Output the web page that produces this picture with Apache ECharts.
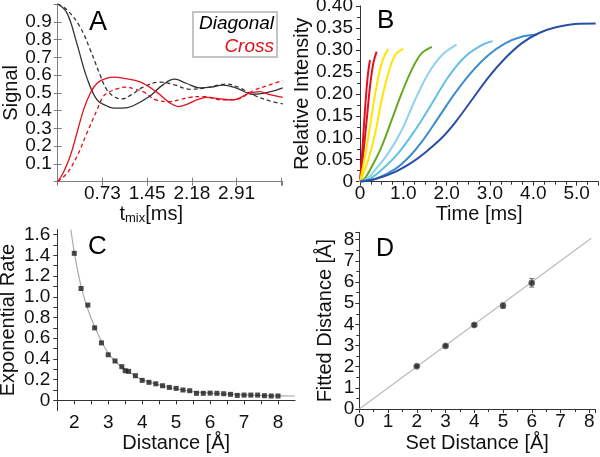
<!DOCTYPE html>
<html><head><meta charset="utf-8">
<script src="https://cdn.jsdelivr.net/npm/echarts@6/dist/echarts.min.js"></script>
<style>html,body{margin:0;padding:0;background:#fff}#c{width:600px;height:457px}</style>
</head><body><div id="c"></div>
<script>
// ---------- Panel A : Signal vs t_mix ----------
const aTickLabels = ['0.73', '1.45', '2.18', '2.91'];
const aDiagSolid = [[0,1.0],[0.15,0.95],[0.31,0.78],[0.47,0.59],[0.64,0.46],[0.80,0.426],[0.91,0.414],[1.05,0.414],[1.22,0.426],[1.49,0.479],[1.71,0.545],[1.90,0.577],[2.09,0.554],[2.31,0.528],[2.50,0.532],[2.69,0.543],[2.91,0.526],[3.18,0.492],[3.40,0.501],[3.66,0.528]];
const aDiagDashed = [[0,1.0],[0.15,0.967],[0.36,0.873],[0.53,0.742],[0.69,0.60],[0.80,0.517],[0.935,0.475],[1.04,0.466],[1.2,0.49],[1.39,0.532],[1.66,0.56],[1.9,0.545],[2.15,0.52],[2.4,0.528],[2.75,0.549],[2.95,0.53],[3.18,0.488],[3.45,0.455],[3.66,0.438]];
const aCrossSolid = [[0,0],[0.09,0.05],[0.2,0.14],[0.31,0.27],[0.42,0.404],[0.53,0.498],[0.64,0.554],[0.80,0.583],[0.93,0.588],[1.1,0.58],[1.33,0.563],[1.6,0.507],[1.82,0.445],[1.96,0.423],[2.1,0.435],[2.26,0.46],[2.42,0.475],[2.69,0.464],[2.84,0.46],[3.12,0.498],[3.28,0.507],[3.45,0.49],[3.66,0.475]];
const aCrossDashed = [[0,0],[0.15,0.047],[0.31,0.14],[0.47,0.27],[0.64,0.404],[0.74,0.479],[0.85,0.507],[1.0,0.527],[1.11,0.532],[1.25,0.522],[1.39,0.507],[1.6,0.46],[1.82,0.451],[2.0,0.463],[2.15,0.475],[2.37,0.479],[2.69,0.46],[2.91,0.464],[3.18,0.513],[3.45,0.545],[3.66,0.569]];

// ---------- Panel B : Relative intensity vs time ----------
const bRed1 = [[0,0],[0.054,0.072],[0.115,0.163],[0.177,0.239],[0.23,0.277]];
const bRed2 = [[0,0],[0.077,0.065],[0.154,0.14],[0.23,0.216],[0.308,0.27],[0.385,0.296]];
const bYellow1 = [[0,0],[0.115,0.057],[0.23,0.125],[0.35,0.2],[0.5,0.27],[0.65,0.302]];
const bYellow2 = [[0,0],[0.19,0.05],[0.35,0.11],[0.5,0.186],[0.654,0.247],[0.81,0.288],[1.0,0.303]];
const bGreen = [[0,0],[0.13,0.01],[0.27,0.034],[0.5,0.08],[0.73,0.14],[0.96,0.201],[1.19,0.254],[1.42,0.292],[1.66,0.307]];
const bCyan1 = [[0,0],[0.18,0.008],[0.35,0.027],[0.654,0.065],[0.962,0.117],[1.27,0.186],[1.58,0.247],[1.89,0.288],[2.23,0.312]];
const bCyan2 = [[0,0],[0.25,0.008],[0.5,0.027],[0.885,0.065],[1.27,0.117],[1.66,0.178],[2.04,0.239],[2.43,0.285],[2.81,0.311],[3.06,0.32]];
const bBlue = [[0,0],[0.4,0.008],[0.8,0.028],[1.12,0.055],[1.42,0.09],[1.81,0.146],[2.19,0.201],[2.58,0.25],[2.96,0.288],[3.35,0.315],[3.73,0.33],[4.08,0.335]];
const bNavy = [[0,0],[0.35,0.006],[0.8,0.022],[1.2,0.044],[1.5,0.066],[1.89,0.1],[2.19,0.134],[2.58,0.186],[2.96,0.237],[3.35,0.281],[3.73,0.315],[4.12,0.338],[4.5,0.351],[4.97,0.359],[5.44,0.36]];
const bColors = ['#e3101e','#e3101e','#ffe500','#ffe500','#66a81e','#8ed3ec','#62c0e3','#3d8cd0','#2b4ea6'];

// ---------- Panel C : Exponential rate vs distance ----------
const cPoints = [[2.0,1.42],[2.2,1.08],[2.4,0.92],[2.6,0.70],[2.8,0.555],[3.0,0.44],[3.2,0.38],[3.4,0.325],[3.5,0.286],[3.6,0.28],[3.8,0.238],[4.0,0.193],[4.2,0.174],[4.4,0.16],[4.6,0.141],[4.8,0.125],[5.0,0.116],[5.2,0.10],[5.4,0.093],[5.6,0.068],[5.8,0.068],[6.0,0.07],[6.2,0.068],[6.4,0.064],[6.6,0.058],[6.8,0.048],[7.0,0.051],[7.2,0.051],[7.4,0.051],[7.6,0.045],[7.8,0.042],[8.0,0.042]];
const cFit = [[1.9,1.65],[2.0,1.43],[2.2,1.1],[2.4,0.88],[2.6,0.71],[2.8,0.57],[3.0,0.455],[3.2,0.38],[3.4,0.32],[3.6,0.275],[3.8,0.235],[4.0,0.2],[4.5,0.15],[5.0,0.11],[5.5,0.085],[6.0,0.07],[6.5,0.06],[7.0,0.052],[7.5,0.047],[8.0,0.044],[8.5,0.042]];

// ---------- Panel D : Fitted vs set distance ----------
const dSet = [2, 3, 4, 5, 6];
const dFitted = [2.02, 2.98, 3.97, 4.88, 5.96];
const dErr = [0.05, 0.05, 0.06, 0.12, 0.2];
const dIdentity = [[0,0],[8.07,8.07]];

const FONT = 'Liberation Sans, Arial, Helvetica, sans-serif';
const TXT = '#111';
const LBL = {fontSize: 19, color: TXT, fontFamily: FONT};
const TITLE = {fontSize: 20, color: TXT, fontFamily: FONT};

function isMult(v, step) { const r = v / step; return Math.abs(r - Math.round(r)) < 1e-6; }

const chart = echarts.init(document.getElementById('c'), null, {renderer: 'canvas'});

const grayBox = '#7f7f7f';
const axisDark = {lineStyle: {color: '#333', width: 1}};

const option = {
  animation: false,
  backgroundColor: '#fff',
  textStyle: {fontFamily: FONT},
  grid: [
    {left: 57.7, top: 4, right: 317.3, bottom: 275.3, outerBoundsMode: 'none'},
    {left: 360, top: 6, right: 1.7, bottom: 275.3, outerBoundsMode: 'none'},
    {left: 57.3, top: 229.5, right: 305, bottom: 46.3, outerBoundsMode: 'none'},
    {left: 359.3, top: 232.3, right: 5, bottom: 48, outerBoundsMode: 'none'}
  ],
  legend: {
    left: 193, top: 12,
    orient: 'vertical',
    icon: 'none', itemWidth: 0, itemHeight: 0, itemGap: 4,
    backgroundColor: '#fff',
    borderColor: '#c4c4c4', borderWidth: 2,
    padding: [2, 3, 1, 0],
    selectedMode: false,
    formatter: n => '{r|' + n + '}',
    textStyle: {fontSize: 19, fontStyle: 'italic', fontFamily: FONT,
      rich: {r: {width: 76, align: 'right', fontSize: 19, fontStyle: 'italic', fontFamily: FONT}}},
    data: [
      {name: 'Diagonal', textStyle: {color: '#000'}},
      {name: 'Cross', textStyle: {color: '#e3101e'}}
    ]
  },
  xAxis: [
    { // A bottom
      gridIndex: 0, type: 'value', min: 0, max: 3.66, interval: 0.7275,
      name: '{t|t}{s|mix}{t|[ms]}', nameLocation: 'middle', nameGap: 20,
      nameTextStyle: {padding: [0, 38, 0, 0], rich: {
        t: {fontSize: 20, color: TXT, fontFamily: FONT},
        s: {fontSize: 13, color: TXT, fontFamily: FONT, verticalAlign: 'bottom', padding: [2, 0, 0, 0]}}},
      axisLine: {lineStyle: {color: grayBox}},
      axisTick: {inside: true, length: 4, lineStyle: {color: grayBox}},
      splitLine: {show: false},
      axisLabel: Object.assign({}, LBL, {margin: 3, showMinLabel: false, showMaxLabel: false,
        formatter: v => { const i = Math.round(v / 0.7275) - 1; return (isMult(v, 0.7275) && aTickLabels[i]) || ''; }})
    },
    { // A top mirror
      gridIndex: 0, type: 'value', position: 'top', min: 0, max: 3.66, interval: 0.7275,
      axisLine: {lineStyle: {color: grayBox}},
      axisTick: {inside: true, length: 4, lineStyle: {color: grayBox}},
      axisLabel: {show: false}, splitLine: {show: false}
    },
    { // B
      gridIndex: 1, type: 'value', min: 0, max: 5.5, interval: 1,
      name: 'Time [ms]', nameLocation: 'middle', nameGap: 23, nameTextStyle: TITLE,
      axisLine: axisDark,
      axisTick: {length: 4, lineStyle: {color: '#333'}},
      minorTick: {show: true, splitNumber: 4, length: 3, lineStyle: {color: '#333'}},
      splitLine: {show: false},
      axisLabel: Object.assign({}, LBL, {margin: 3, showMaxLabel: false,
        formatter: v => v === 0 ? '0' : (isMult(v, 1) ? v.toFixed(1) : '')})
    },
    { // C
      gridIndex: 2, type: 'value', min: 1.5, max: 8.5, interval: 0.5,
      name: 'Distance [Å]', nameLocation: 'middle', nameGap: 23, nameTextStyle: TITLE,
      axisLine: axisDark,
      axisTick: {length: 4, lineStyle: {color: '#333'}},
      splitLine: {show: false},
      axisLabel: Object.assign({}, LBL, {margin: 3, showMinLabel: false, showMaxLabel: false,
        formatter: v => isMult(v, 1) ? String(Math.round(v)) : ''})
    },
    { // D
      gridIndex: 3, type: 'value', min: 0, max: 8.2, interval: 1,
      name: 'Set Distance [Å]', nameLocation: 'middle', nameGap: 24, nameTextStyle: TITLE,
      axisLine: axisDark,
      axisTick: {length: 4, lineStyle: {color: '#333'}},
      minorTick: {show: true, splitNumber: 2, length: 3, lineStyle: {color: '#333'}},
      splitLine: {show: false},
      axisLabel: Object.assign({}, LBL, {margin: 3, showMaxLabel: false,
        formatter: v => isMult(v, 1) ? String(Math.round(v)) : ''})
    }
  ],
  yAxis: [
    { // A left
      gridIndex: 0, type: 'value', min: 0, max: 1, interval: 0.1,
      name: 'Signal', nameLocation: 'middle', nameGap: 35, nameTextStyle: TITLE,
      axisLine: {lineStyle: {color: grayBox}},
      axisTick: {inside: true, length: 4, lineStyle: {color: grayBox}},
      splitLine: {show: false},
      axisLabel: Object.assign({}, LBL, {margin: 6, showMinLabel: false, showMaxLabel: false,
        formatter: v => (v > 0.05 && v < 0.95) ? v.toFixed(1) : ''})
    },
    { // A right mirror
      gridIndex: 0, type: 'value', position: 'right', min: 0, max: 1, interval: 0.1,
      axisLine: {lineStyle: {color: grayBox}},
      axisTick: {inside: true, length: 4, lineStyle: {color: grayBox}},
      axisLabel: {show: false}, splitLine: {show: false}
    },
    { // B
      gridIndex: 1, type: 'value', min: 0, max: 0.4, interval: 0.05,
      name: 'Relative Intensity', nameLocation: 'middle', nameGap: 42, nameTextStyle: TITLE,
      axisLine: axisDark,
      axisTick: {length: 4, lineStyle: {color: '#333'}},
      minorTick: {show: true, splitNumber: 2, length: 3, lineStyle: {color: '#333'}},
      splitLine: {show: false},
      axisLabel: Object.assign({}, LBL, {margin: 7,
        formatter: v => v === 0 ? '0' : v.toFixed(2)})
    },
    { // C
      gridIndex: 2, type: 'value', min: -0.1, max: 1.65, interval: 0.1,
      name: 'Exponential Rate', nameLocation: 'middle', nameGap: 39, nameTextStyle: TITLE,
      axisLine: axisDark,
      axisTick: {length: 4, lineStyle: {color: '#333'}},
      splitLine: {show: false},
      axisLabel: Object.assign({}, LBL, {margin: 7, showMinLabel: false, showMaxLabel: false,
        formatter: v => { if (v < -1e-6 || !isMult(v, 0.2)) return ''; return Math.abs(v) < 1e-6 ? '0' : v.toFixed(1); }})
    },
    { // D
      gridIndex: 3, type: 'value', min: 0, max: 8.35, interval: 1,
      name: 'Fitted Distance [Å]', nameLocation: 'middle', nameGap: 24, nameTextStyle: TITLE,
      axisLine: axisDark,
      axisTick: {length: 4, lineStyle: {color: '#333'}},
      minorTick: {show: true, splitNumber: 2, length: 3, lineStyle: {color: '#333'}},
      splitLine: {show: false},
      axisLabel: Object.assign({}, LBL, {margin: 5, showMaxLabel: false,
        formatter: v => isMult(v, 1) ? String(Math.round(v)) : ''})
    }
  ],
  graphic: [
    {type: 'text', left: 89, top: 9, style: {text: 'A', fontSize: 27, fill: '#000', fontFamily: FONT}},
    {type: 'text', left: 377, top: 8, style: {text: 'B', fontSize: 26, fill: '#000', fontFamily: FONT}},
    {type: 'text', left: 88, top: 234, style: {text: 'C', fontSize: 26, fill: '#000', fontFamily: FONT}},
    {type: 'text', left: 376, top: 237, style: {text: 'D', fontSize: 25, fill: '#000', fontFamily: FONT}}
  ],
  series: []
};

// Panel A series
const lineA = (name, data, color, dashed) => ({
  name, type: 'line', xAxisIndex: 0, yAxisIndex: 0, data, smooth: 0.4, showSymbol: false, symbol: 'none',
  lineStyle: {color, width: 1.3, type: dashed ? [4, 3] : 'solid'}, itemStyle: {color}, z: dashed ? 2 : 3
});
option.series.push(lineA('Diagonal', aDiagSolid, '#333', false));
option.series.push(lineA('Diagonal dashed', aDiagDashed, '#333', true));
option.series.push(lineA('Cross', aCrossSolid, '#e3101e', false));
option.series.push(lineA('Cross dashed', aCrossDashed, '#e3101e', true));

// Panel B series
[bRed1, bRed2, bYellow1, bYellow2, bGreen, bCyan1, bCyan2, bBlue, bNavy].forEach((d, i) => {
  option.series.push({
    name: 'B' + i, type: 'line', xAxisIndex: 2, yAxisIndex: 2, data: d, smooth: 0.35,
    symbol: 'none', lineStyle: {color: bColors[i], width: 2}, itemStyle: {color: bColors[i]}
  });
});

// Panel C series
option.series.push({
  name: 'C fit', type: 'line', xAxisIndex: 3, yAxisIndex: 3, data: cFit, smooth: 0.4, symbol: 'none',
  lineStyle: {color: '#aaa', width: 1.2}, z: 1
});
option.series.push({
  name: 'C points', type: 'scatter', xAxisIndex: 3, yAxisIndex: 3, data: cPoints,
  symbol: 'rect', symbolSize: 5, itemStyle: {color: '#1a1a1a'}, z: 3
});

// Panel D series
option.series.push({
  name: 'D identity', type: 'line', xAxisIndex: 4, yAxisIndex: 4, data: dIdentity, symbol: 'none',
  lineStyle: {color: '#bbb', width: 1.2}, z: 1
});
option.series.push({
  name: 'D err', type: 'custom', xAxisIndex: 4, yAxisIndex: 4,
  data: dSet.map((x, i) => [x, dFitted[i], dErr[i]]),
  renderItem: (params, api) => {
    const x = api.value(0), y = api.value(1), e = api.value(2);
    const t = api.coord([x, y + e]), b = api.coord([x, y - e]);
    const w = 2.5, st = {stroke: '#666', lineWidth: 1};
    return {type: 'group', children: [
      {type: 'line', shape: {x1: t[0], y1: t[1], x2: b[0], y2: b[1]}, style: st},
      {type: 'line', shape: {x1: t[0] - w, y1: t[1], x2: t[0] + w, y2: t[1]}, style: st},
      {type: 'line', shape: {x1: b[0] - w, y1: b[1], x2: b[0] + w, y2: b[1]}, style: st}
    ]};
  }, z: 2
});
option.series.push({
  name: 'D points', type: 'scatter', xAxisIndex: 4, yAxisIndex: 4,
  data: dSet.map((x, i) => [x, dFitted[i]]),
  symbol: 'circle', symbolSize: 6, itemStyle: {color: '#222', borderColor: '#666', borderWidth: 1}, z: 3
});

chart.setOption(option);
</script></body></html>
